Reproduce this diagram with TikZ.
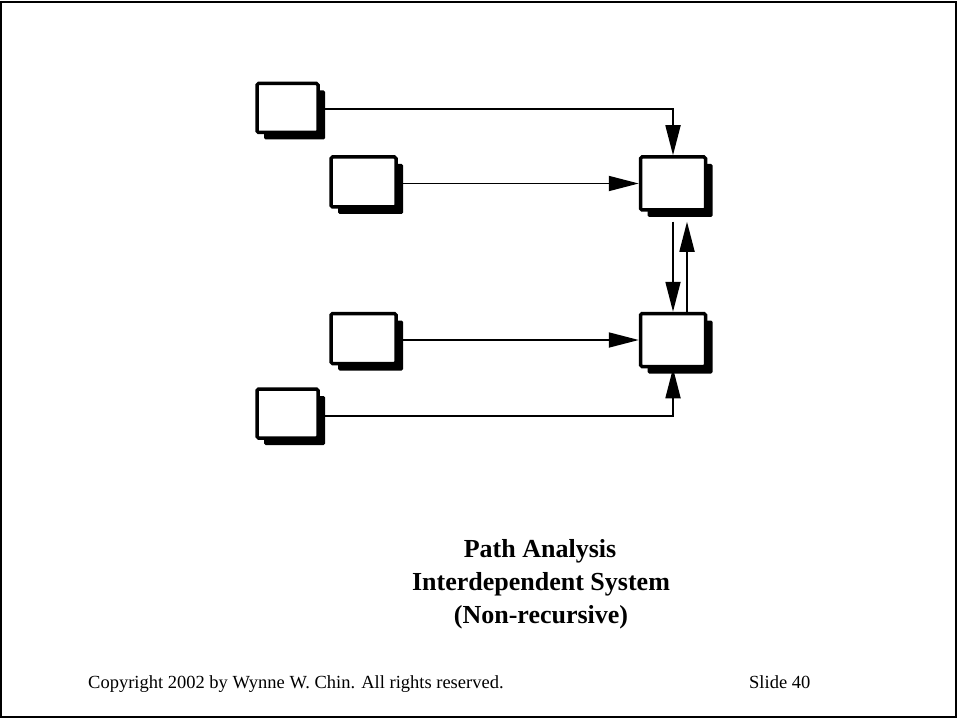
\documentclass[tikz,border=0pt]{standalone}
\usepackage{fontspec}
\setmainfont{Liberation Serif}
\usetikzlibrary{arrows.meta,shadows}
\begin{document}
\begin{tikzpicture}[x=1pt,y=-1pt,
  varbox/.style={draw=black,fill=white,line width=3.5pt,rounded corners=1.5pt,
    inner sep=0pt,
    drop shadow={shadow xshift=7pt,shadow yshift=-7pt,fill=black,opacity=1}},
  smallbox/.style={varbox,minimum width=61pt,minimum height=49pt},
  midbox/.style={varbox,minimum width=65pt,minimum height=50pt},
  endbox/.style={varbox,minimum width=65pt,minimum height=53pt},
  path/.style={line width=1.8pt,-{Triangle[length=30pt,width=15pt]}},
  caption/.style={font=\fontsize{26}{30}\selectfont\bfseries,anchor=base},
  footer/.style={font=\fontsize{18.5}{22}\selectfont,anchor=base west,inner sep=0pt}]
  \useasboundingbox (0,0) rectangle (957,719);
  \draw[line width=1.5pt] (1,2) rectangle (956,717);

  % exogenous variables
  \node[smallbox] (a) at (287.5,108) {};
  \node[midbox]   (b) at (363.5,182) {};
  \node[midbox]   (e) at (363.5,338.5) {};
  \node[smallbox] (f) at (287.5,413.5) {};
  % endogenous variables
  \node[endbox] (c) at (673,183.5) {};
  \node[endbox] (d) at (673,340) {};

  \coordinate (ac) at (673,109);
  \coordinate (fd) at (673,416);

  \draw[path] (a.east |- ac) -- (ac) -- (c.north);
  \draw[path] (b.east |- c.west) -- (c.west);
  \draw[path] (e.east |- d.west) -- (d.west);
  \draw[path] (f.east |- fd) -- (fd) -- (d.south);
  \draw[path,shorten <=10pt] (c.south) -- (d.north);
  \draw[path,shorten >=10pt] ([xshift=14pt]d.north) -- ([xshift=14pt]c.south);

  \node[caption] (t1) at (540,557) {Path Analysis};
  \node[caption] (t2) at (541,590) {Interdependent System};
  \node[caption] (t3) at (541,623) {(Non-recursive)};

  \node[footer] (copy) at (88,688) {Copyright 2002 by Wynne W. Chin. All rights reserved.};
  \node[footer] (slide) at (749,688) {Slide 40};
\end{tikzpicture}
\end{document}
